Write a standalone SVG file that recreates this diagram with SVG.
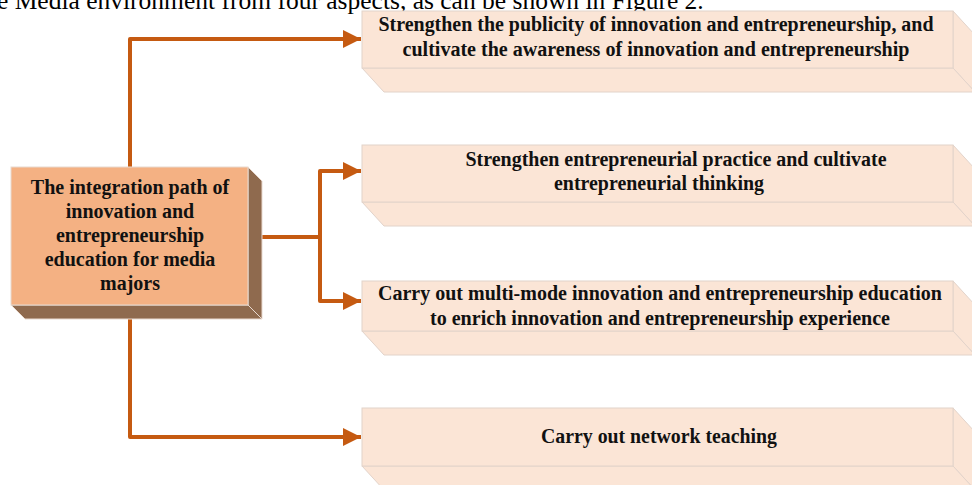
<svg xmlns="http://www.w3.org/2000/svg" width="972" height="485" viewBox="0 0 972 485">
<defs>
<style>
.t{font-family:"Liberation Serif","Times New Roman",serif;font-weight:bold;font-size:20px;fill:#111;text-anchor:middle}
.r{font-size:20px}
.cap{font-family:"Liberation Serif","Times New Roman",serif;font-size:25.5px;fill:#000}
.rf{fill:#FBE5D6;stroke:#E2D3CA;stroke-width:1}
.lf{fill:#F4B183;stroke:#E8D9CF;stroke-width:1}
.ls{fill:#8F6A4E;stroke:#E8D9CF;stroke-width:1}
.c{fill:none;stroke:#C55A11;stroke-width:4;stroke-linejoin:round}
</style>
<marker id="ah" viewBox="0 0 10 10" refX="10" refY="5" markerWidth="4.5" markerHeight="4.5" markerUnits="strokeWidth" orient="auto">
<path d="M0,0 L10,5 L0,10 Z" fill="#C55A11"/>
</marker>
</defs>
<rect width="972" height="485" fill="#fff"/>
<text class="cap" x="-3" y="9">e Media environment from four aspects, as can be shown in Figure 2.</text>

<g id="connectors">
<path class="c" d="M130,167 V39 H361" marker-end="url(#ah)"/>
<path class="c" d="M262,237 H320"/>
<path class="c" d="M320,237 V171 H361" marker-end="url(#ah)"/>
<path class="c" d="M320,237 V301 H361" marker-end="url(#ah)"/>
<path class="c" d="M130,318 V437 H361" marker-end="url(#ah)"/>
</g>

<g id="source">
<polygon class="ls" points="248,167 262,181 262,319 248,305"/>
<polygon class="ls" points="11,305 248,305 262,319 25,319"/>
<rect class="lf" x="11" y="167" width="237" height="138"/>
<text class="t" x="130" y="194">The integration path of</text>
<text class="t" x="130" y="218">innovation and</text>
<text class="t" x="130" y="242">entrepreneurship</text>
<text class="t" x="130" y="266">education for media</text>
<text class="t" x="130" y="290">majors</text>
</g>

<g id="box1">
<polygon class="rf" points="953,11 975,35 975,92 953,68"/>
<polygon class="rf" points="362,68 953,68 975,92 384,92"/>
<rect class="rf" x="362" y="11" width="591" height="57"/>
<text class="t r" x="656" y="31" textLength="555" lengthAdjust="spacingAndGlyphs">Strengthen the publicity of innovation and entrepreneurship, and</text>
<text class="t r" x="656" y="56" textLength="507" lengthAdjust="spacingAndGlyphs">cultivate the awareness of innovation and entrepreneurship</text>
</g>

<g id="box2">
<polygon class="rf" points="953,145 975,169 975,226 953,202"/>
<polygon class="rf" points="362,202 953,202 975,226 384,226"/>
<rect class="rf" x="362" y="145" width="591" height="57"/>
<text class="t r" x="676" y="166" textLength="421" lengthAdjust="spacingAndGlyphs">Strengthen entrepreneurial practice and cultivate</text>
<text class="t r" x="659" y="190" textLength="210" lengthAdjust="spacingAndGlyphs">entrepreneurial thinking</text>
</g>

<g id="box3">
<polygon class="rf" points="953,281 975,305 975,355 953,331"/>
<polygon class="rf" points="362,331 953,331 975,355 384,355"/>
<rect class="rf" x="362" y="281" width="591" height="50"/>
<text class="t r" x="660" y="300" textLength="564" lengthAdjust="spacingAndGlyphs">Carry out multi-mode innovation and entrepreneurship education</text>
<text class="t r" x="660" y="325" textLength="460" lengthAdjust="spacingAndGlyphs">to enrich innovation and entrepreneurship experience</text>
</g>

<g id="box4">
<polygon class="rf" points="953,408 975,432 975,490 953,466"/>
<polygon class="rf" points="362,466 953,466 975,490 384,490"/>
<rect class="rf" x="362" y="408" width="591" height="58"/>
<text class="t r" x="659" y="443" textLength="236" lengthAdjust="spacingAndGlyphs">Carry out network teaching</text>
</g>
</svg>
